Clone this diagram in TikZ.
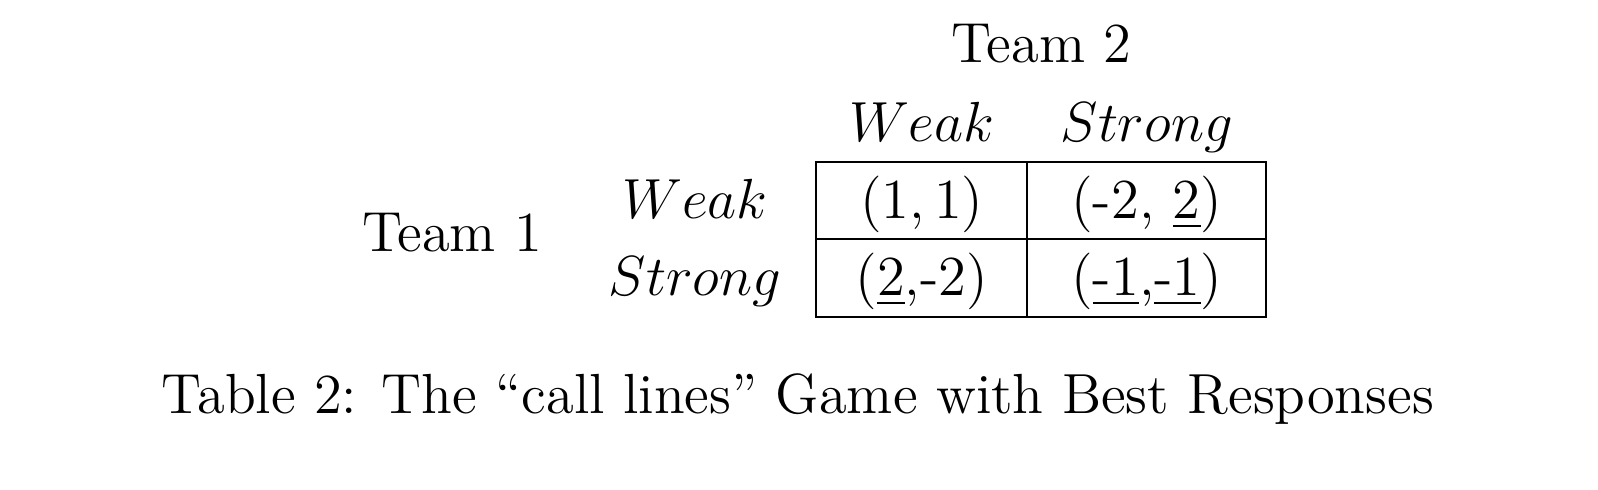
\documentclass[tikz,border=0pt,12pt]{standalone}
\usepackage{amsmath}
\usetikzlibrary{positioning}

\begin{document}
\begin{tikzpicture}[x=0.2122pt,y=-0.2122pt,on grid,
  cell/.style={draw,inner sep=0pt,text height=11.9pt,text depth=4.5pt},
  lab/.style={anchor=base,inner sep=0pt}]
\useasboundingbox (0,0) rectangle (1598,490);
\coordinate (rowcol) at (695,0);
\coordinate (hdrrow) at (0,142);
\node[cell,minimum width=44.84pt] (c_ww) at (921.7,200.7) {$(1,1)$};
\node[cell,minimum width=50.65pt] (c_ws) [right=47.75pt of c_ww] {(-2, \underline{2})};
\node[cell,minimum width=44.84pt] (c_sw) [below=16.4pt of c_ww] {(\underline{2},-2)};
\node[cell,minimum width=50.65pt] (c_ss) [below=16.4pt of c_ws] {(\underline{-1},\underline{-1})};
\node[lab] (h_w) at (c_ww |- hdrrow) {$Weak$};
\node[lab] (h_s) at (c_ws |- hdrrow) {$Strong$};
\node[lab] (r_w) at (c_ww.base -| rowcol) {$Weak$};
\node[lab] (r_s) at (c_sw.base -| rowcol) {$Strong$};
\node[lab] (t_2) at (1041.5,62.5) {Team 2};
\node[lab] (t_1) at (452,252) {Team 1};
\node[lab] (cap) at (798,413.3) {Table 2: The ``call lines'' Game with Best Responses};
\end{tikzpicture}
\end{document}
